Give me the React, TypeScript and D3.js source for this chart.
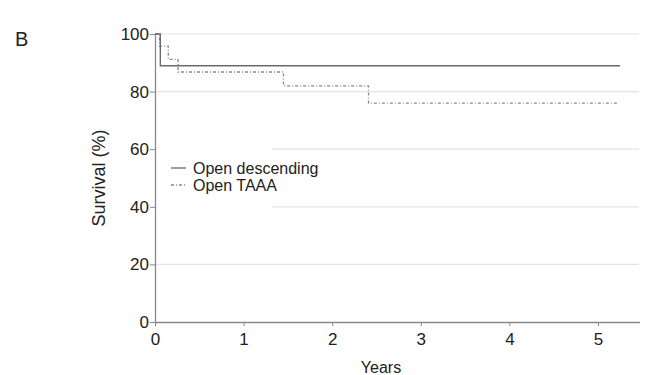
import { useRef, useEffect } from 'react';
import * as d3 from 'd3';

// data
const descTimes = [0, 0.06, 5.25];
const descSurvival = [100, 89, 89];
const taaaTimes = [0, 0.05, 0.15, 0.26, 1.45, 2.41, 5.23];
const taaaSurvival = [100, 95.8, 91.2, 86.8, 82, 76, 76];
const xTicks = [0, 1, 2, 3, 4, 5];
const yTicks = [0, 20, 40, 60, 80, 100];
const legendLabels = ['Open descending', 'Open TAAA'];

const W = 646;
const H = 375;
const FONT = '"Liberation Sans", Arial, sans-serif';

export default function App() {
    const svgRef = useRef<SVGSVGElement>(null);

    useEffect(() => {
        const svg = d3.select(svgRef.current).html('');
        const x = d3.scaleLinear().domain([0, 5]).range([155, 598]);
        const y = d3.scaleLinear().domain([0, 100]).range([322, 34]);

        // パネルラベル
        svg.append('text').attr('x', 15).attr('y', 46).attr('font-family', FONT)
            .attr('font-size', 20).attr('fill', '#222').text('B');

        // グリッド線
        svg.append('g').selectAll('line').data(yTicks.filter(d => d > 0)).enter()
            .append('line')
            .attr('x1', x(0)).attr('x2', 639)
            .attr('y1', d => y(d)).attr('y2', d => y(d))
            .attr('stroke', '#e4e4e4').attr('stroke-width', 1.2);

        // 凡例の背景（グリッドを隠す）
        svg.append('rect').attr('x', x(0) + 1).attr('y', 140)
            .attr('width', 116).attr('height', 75).attr('fill', '#fff');

        // 軸
        const yAxis = d3.axisLeft(y).tickValues(yTicks).tickSize(5).tickPadding(1);
        const gy = svg.append('g').attr('transform', `translate(${x(0)},0)`).call(yAxis);
        const xAxis = d3.axisBottom(x).tickValues(xTicks).tickFormat(d3.format('d')).tickSize(4).tickPadding(7);
        const gx = svg.append('g').attr('transform', `translate(0,${y(0)})`).call(xAxis);
        gx.select('.domain').attr('d', `M${x(0)},0.5H640`);
        gy.select('.domain').attr('d', `M0.5,${y(0)}V${y(100)}`);
        [gx, gy].forEach(g => {
            g.selectAll('.domain').attr('stroke', '#888').attr('stroke-width', 1.3);
            g.selectAll('.tick line').attr('stroke', '#888');
            g.selectAll('.tick text').attr('fill', '#222')
                .attr('font-family', FONT).attr('font-size', 17);
        });

        // 軸タイトル
        svg.append('text').attr('x', 381).attr('y', 373)
            .attr('text-anchor', 'middle').attr('font-family', FONT)
            .attr('font-size', 16).attr('fill', '#222').text('Years');
        svg.append('text')
            .attr('transform', `translate(105,178) rotate(-90)`)
            .attr('text-anchor', 'middle').attr('font-family', FONT)
            .attr('font-size', 18).attr('fill', '#222').text('Survival (%)');

        // 生存曲線（ステップ）
        const step = d3.line<[number, number]>().x(d => x(d[0])).y(d => y(d[1])).curve(d3.curveStepAfter);

        svg.append('path')
            .attr('d', step(d3.zip(taaaTimes, taaaSurvival) as [number, number][]))
            .attr('fill', 'none').attr('stroke', '#8a8a8a').attr('stroke-width', 1.3)
            .attr('stroke-dasharray', '3,2,1,2');
        svg.append('path')
            .attr('d', step(d3.zip(descTimes, descSurvival) as [number, number][]))
            .attr('fill', 'none').attr('stroke', '#6a6a6a').attr('stroke-width', 1.4);

        // 凡例
        const lg = svg.append('g');
        lg.selectAll('line').data(legendLabels).enter().append('line')
            .attr('x1', 171).attr('x2', 186)
            .attr('y1', (_, i) => 168 + i * 17).attr('y2', (_, i) => 168 + i * 17)
            .attr('stroke', (_, i) => (i === 0 ? '#6a6a6a' : '#8a8a8a'))
            .attr('stroke-width', 1.3)
            .attr('stroke-dasharray', (_, i) => (i === 0 ? null : '3,2,1,2'));
        lg.selectAll('text').data(legendLabels).enter().append('text')
            .attr('x', 193).attr('y', (_, i) => 174 + i * 17)
            .attr('font-family', FONT).attr('font-size', 16).attr('fill', '#222')
            .text(d => d);
    }, []);

    return (
        <svg ref={svgRef} width={W} height={H}
            style={{ position: 'absolute', left: 0, top: 0, background: '#fff', fontFamily: FONT }} />
    );
}
